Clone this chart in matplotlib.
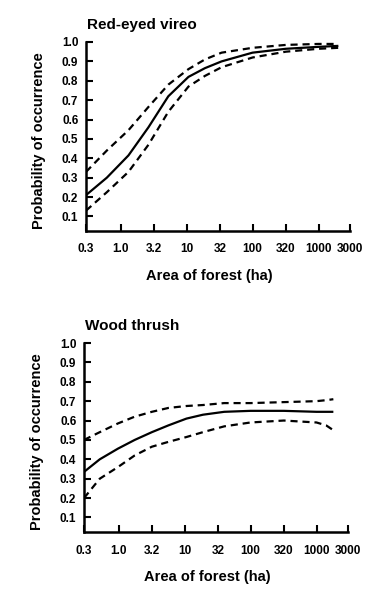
import numpy as np
import matplotlib
matplotlib.use("Agg")
import matplotlib.pyplot as plt

plt.rcParams['font.family'] = ['Liberation Sans', 'DejaVu Sans']
plt.rcParams['font.weight'] = 'bold'

# Tick values / labels (same on both panels)
xticks = [0.3, 1.0, 3.2, 10, 32, 100, 320, 1000, 3000]
xticklabels = ['0.3', '1.0', '3.2', '10', '32', '100', '320', '1000', '3000']
yticks = [0.1, 0.2, 0.3, 0.4, 0.5, 0.6, 0.7, 0.8, 0.9, 1.0]
yticklabels = ['0.1', '0.2', '0.3', '0.4', '0.5', '0.6', '0.7', '0.8', '0.9', '1.0']

# Red-eyed vireo
vireo_x = [0.3, 0.62, 1.32, 2.65, 5.3, 10.7, 19, 34, 100, 320, 1000, 2000]
vireo_fit = [0.21, 0.30, 0.415, 0.56, 0.72, 0.82, 0.865, 0.90, 0.945, 0.965, 0.975, 0.98]
vireo_hi = [0.33, 0.44, 0.545, 0.665, 0.78, 0.86, 0.91, 0.945, 0.97, 0.985, 0.99, 0.99]
vireo_lo = [0.13, 0.225, 0.33, 0.47, 0.64, 0.77, 0.825, 0.87, 0.92, 0.95, 0.965, 0.97]

# Wood thrush
thrush_x = [0.3, 0.52, 0.98, 1.76, 3.2, 5.7, 10.7, 19, 40, 100, 320, 1000, 1400, 1800]
thrush_fit = [0.335, 0.40, 0.455, 0.50, 0.54, 0.575, 0.61, 0.63, 0.645, 0.65, 0.65, 0.645, 0.645, 0.645]
thrush_hi = [0.50, 0.54, 0.585, 0.62, 0.645, 0.665, 0.675, 0.68, 0.69, 0.69, 0.695, 0.70, 0.705, 0.71]
thrush_lo = [0.20, 0.30, 0.36, 0.42, 0.465, 0.49, 0.515, 0.54, 0.57, 0.59, 0.60, 0.59, 0.575, 0.55]

fig = plt.figure(figsize=(3.85, 5.99), dpi=100)

panels = [
    ("Red-eyed vireo", vireo_x, vireo_fit, vireo_hi, vireo_lo,
     [86 / 385, 1 - 231 / 599, 264 / 385, 189 / 599]),
    ("Wood thrush", thrush_x, thrush_fit, thrush_hi, thrush_lo,
     [84 / 385, 1 - 532 / 599, 264 / 385, 189 / 599]),
]

for title, x, fit, hi, lo, rect in panels:
    ax = fig.add_axes(rect)
    ax.plot(x, fit, color='black', lw=1.6, solid_capstyle='butt')
    ax.plot(x, hi, color='black', lw=1.6, dashes=(3.2, 2.2))
    ax.plot(x, lo, color='black', lw=1.6, dashes=(3.2, 2.2))
    ax.set_xscale('log')
    ax.set_xlim(0.3, 3000)
    ax.set_ylim(0.025, 1.0)
    ax.set_xticks(xticks)
    ax.set_xticklabels(xticklabels)
    ax.minorticks_off()
    ax.set_yticks(yticks)
    ax.set_yticklabels(yticklabels)
    ax.tick_params(direction='in', length=5, width=1.5, labelsize=8.5)
    ax.tick_params(axis='x', pad=9)
    ax.tick_params(axis='y', pad=5.5)
    for s in ['top', 'right']:
        ax.spines[s].set_visible(False)
    for s in ['left', 'bottom']:
        ax.spines[s].set_linewidth(1.8)
    ax.set_xlabel('Area of forest (ha)', fontsize=10.5, fontweight='bold')
    ax.xaxis.set_label_coords(0.466, -0.2)
    ax.set_ylabel('Probability of occurrence', fontsize=10.5, fontweight='bold')
    ax.yaxis.set_label_coords(-0.15, 0.48)
    ax.text(0.005, 1.09, title, transform=ax.transAxes, fontsize=11,
            fontweight='bold', ha='left', va='center')

fig.savefig('out.png', dpi=100)
